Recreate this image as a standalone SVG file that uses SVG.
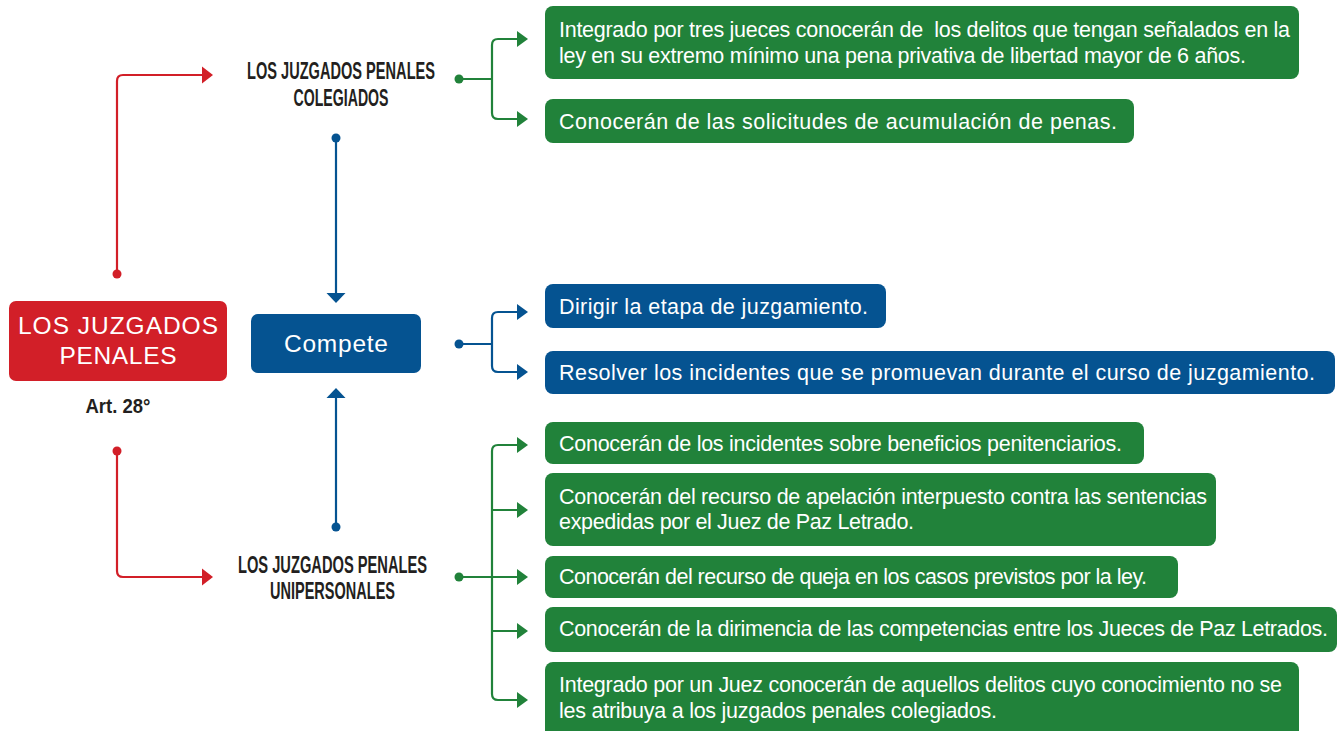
<svg xmlns="http://www.w3.org/2000/svg" width="1338" height="731" viewBox="0 0 1338 731">
<style>
.red{fill:#D21F28}.grn{fill:#21823A}.blu{fill:#055391}
.lr{stroke:#D21F28}.lg{stroke:#21823A}.lb{stroke:#055391}
.ln{fill:none;stroke-width:2.2;stroke-linecap:butt}
.bt{font-family:"Liberation Sans",Arial,sans-serif;font-size:21.5px;fill:#fff}
.hd{font-family:"Liberation Sans Narrow","Liberation Sans",Arial,sans-serif;font-weight:bold;font-size:23px;fill:#231F20;text-anchor:middle}
.big{font-family:"Liberation Sans",Arial,sans-serif;font-size:24.5px;fill:#fff;text-anchor:middle}
</style>
<rect width="1338" height="731" fill="#fff"/>
<g id="connectors">
  <path class="ln lr" d="M117,274 V81 Q117,75 123,75 H204"/>
  <polygon class="red" points="202,66.5 213,75 202,83.5"/>
  <circle class="red" cx="117" cy="274" r="4.5"/>
  <path class="ln lr" d="M117,451 V571 Q117,577 123,577 H204"/>
  <polygon class="red" points="202,568.5 213,577 202,585.5"/>
  <circle class="red" cx="117" cy="451" r="4.5"/>

  <path class="ln lb" d="M336,138 V294"/>
  <polygon class="blu" points="326.5,293 345.5,293 336,303"/>
  <circle class="blu" cx="336" cy="138" r="4.5"/>
  <path class="ln lb" d="M336,527 V397"/>
  <polygon class="blu" points="326.5,398 345.5,398 336,388"/>
  <circle class="blu" cx="336" cy="527" r="4.5"/>

  <path class="ln lb" d="M459,344 H492 M518,312 H498 Q492,312 492,318 V366 Q492,372 498,372 H518"/>
  <polygon class="blu" points="517,304 528,312 517,320"/>
  <polygon class="blu" points="517,364 528,372 517,380"/>
  <circle class="blu" cx="459" cy="344" r="4.5"/>

  <path class="ln lg" d="M459,79 H492 M518,39 H498 Q492,39 492,45 V113 Q492,119 498,119 H518"/>
  <polygon class="grn" points="517,31 528,39 517,47"/>
  <polygon class="grn" points="517,111 528,119 517,127"/>
  <circle class="grn" cx="459" cy="79" r="4.5"/>

  <path class="ln lg" d="M459,577 H518 M518,445 H498 Q492,445 492,451 V694 Q492,700 498,700 H518 M492,510 H518 M492,631 H518"/>
  <polygon class="grn" points="517,437 528,445 517,453"/>
  <polygon class="grn" points="517,502 528,510 517,518"/>
  <polygon class="grn" points="517,569 528,577 517,585"/>
  <polygon class="grn" points="517,623 528,631 517,639"/>
  <polygon class="grn" points="517,692 528,700 517,708"/>
  <circle class="grn" cx="459" cy="577" r="4.5"/>
</g>
<g id="main">
  <rect class="red" x="9" y="301" width="218" height="80" rx="7"/>
  <text class="big" x="118" y="334" textLength="200" lengthAdjust="spacing">LOS JUZGADOS</text>
  <text class="big" x="118" y="364" textLength="117" lengthAdjust="spacing">PENALES</text>
  <text class="hd" x="118" y="413" textLength="65" lengthAdjust="spacingAndGlyphs" style="font-size:21px">Art. 28°</text>
</g>
<g id="colegiados">
  <text class="hd" x="341" y="79" textLength="188" lengthAdjust="spacingAndGlyphs">LOS JUZGADOS PENALES</text>
  <text class="hd" x="341" y="106" textLength="95" lengthAdjust="spacingAndGlyphs">COLEGIADOS</text>
</g>
<g id="unipersonales">
  <text class="hd" x="332.5" y="573" textLength="189" lengthAdjust="spacingAndGlyphs">LOS JUZGADOS PENALES</text>
  <text class="hd" x="332.5" y="599" textLength="125" lengthAdjust="spacingAndGlyphs">UNIPERSONALES</text>
</g>
<g id="compete">
  <rect class="blu" x="251" y="314" width="170" height="59" rx="7"/>
  <text class="big" x="336" y="352" textLength="104" lengthAdjust="spacing">Compete</text>
</g>
<g id="g1">
  <rect class="grn" x="545" y="6" width="754" height="73" rx="8"/>
  <text class="bt" x="559" y="37" textLength="731" lengthAdjust="spacing" xml:space="preserve">Integrado por tres jueces conocerán de  los delitos que tengan señalados en la</text>
  <text class="bt" x="559" y="63" textLength="687" lengthAdjust="spacing">ley en su extremo mínimo una pena privativa de libertad mayor de 6 años.</text>
</g>
<g id="g2">
  <rect class="grn" x="545" y="99" width="589" height="44" rx="8"/>
  <text class="bt" x="559" y="128.5" textLength="558" lengthAdjust="spacing">Conocerán de las solicitudes de acumulación de penas.</text>
</g>
<g id="b1">
  <rect class="blu" x="545" y="284" width="341" height="44" rx="8"/>
  <text class="bt" x="559" y="313.5" textLength="309" lengthAdjust="spacing">Dirigir la etapa de juzgamiento.</text>
</g>
<g id="b2">
  <rect class="blu" x="545" y="351" width="790" height="43" rx="8"/>
  <text class="bt" x="559" y="380" textLength="756" lengthAdjust="spacing">Resolver los incidentes que se promuevan durante el curso de juzgamiento.</text>
</g>
<g id="g3">
  <rect class="grn" x="545" y="422" width="599" height="42" rx="8"/>
  <text class="bt" x="559" y="451" textLength="563" lengthAdjust="spacing">Conocerán de los incidentes sobre beneficios penitenciarios.</text>
</g>
<g id="g4">
  <rect class="grn" x="545" y="473" width="671" height="73" rx="8"/>
  <text class="bt" x="559" y="504" textLength="648" lengthAdjust="spacing">Conocerán del recurso de apelación interpuesto contra las sentencias</text>
  <text class="bt" x="559" y="529" textLength="355" lengthAdjust="spacing">expedidas por el Juez de Paz Letrado.</text>
</g>
<g id="g5">
  <rect class="grn" x="545" y="556" width="633" height="42" rx="8"/>
  <text class="bt" x="559" y="584" textLength="588" lengthAdjust="spacing">Conocerán del recurso de queja en los casos previstos por la ley.</text>
</g>
<g id="g6">
  <rect class="grn" x="545" y="607" width="792" height="45" rx="8"/>
  <text class="bt" x="559" y="636" textLength="769" lengthAdjust="spacing">Conocerán de la dirimencia de las competencias entre los Jueces de Paz Letrados.</text>
</g>
<g id="g7">
  <rect class="grn" x="545" y="662" width="754" height="80" rx="8"/>
  <text class="bt" x="559" y="692" textLength="723" lengthAdjust="spacing">Integrado por un Juez conocerán de aquellos delitos cuyo conocimiento no se</text>
  <text class="bt" x="559" y="718" textLength="438" lengthAdjust="spacing">les atribuya a los juzgados penales colegiados.</text>
</g>
</svg>
